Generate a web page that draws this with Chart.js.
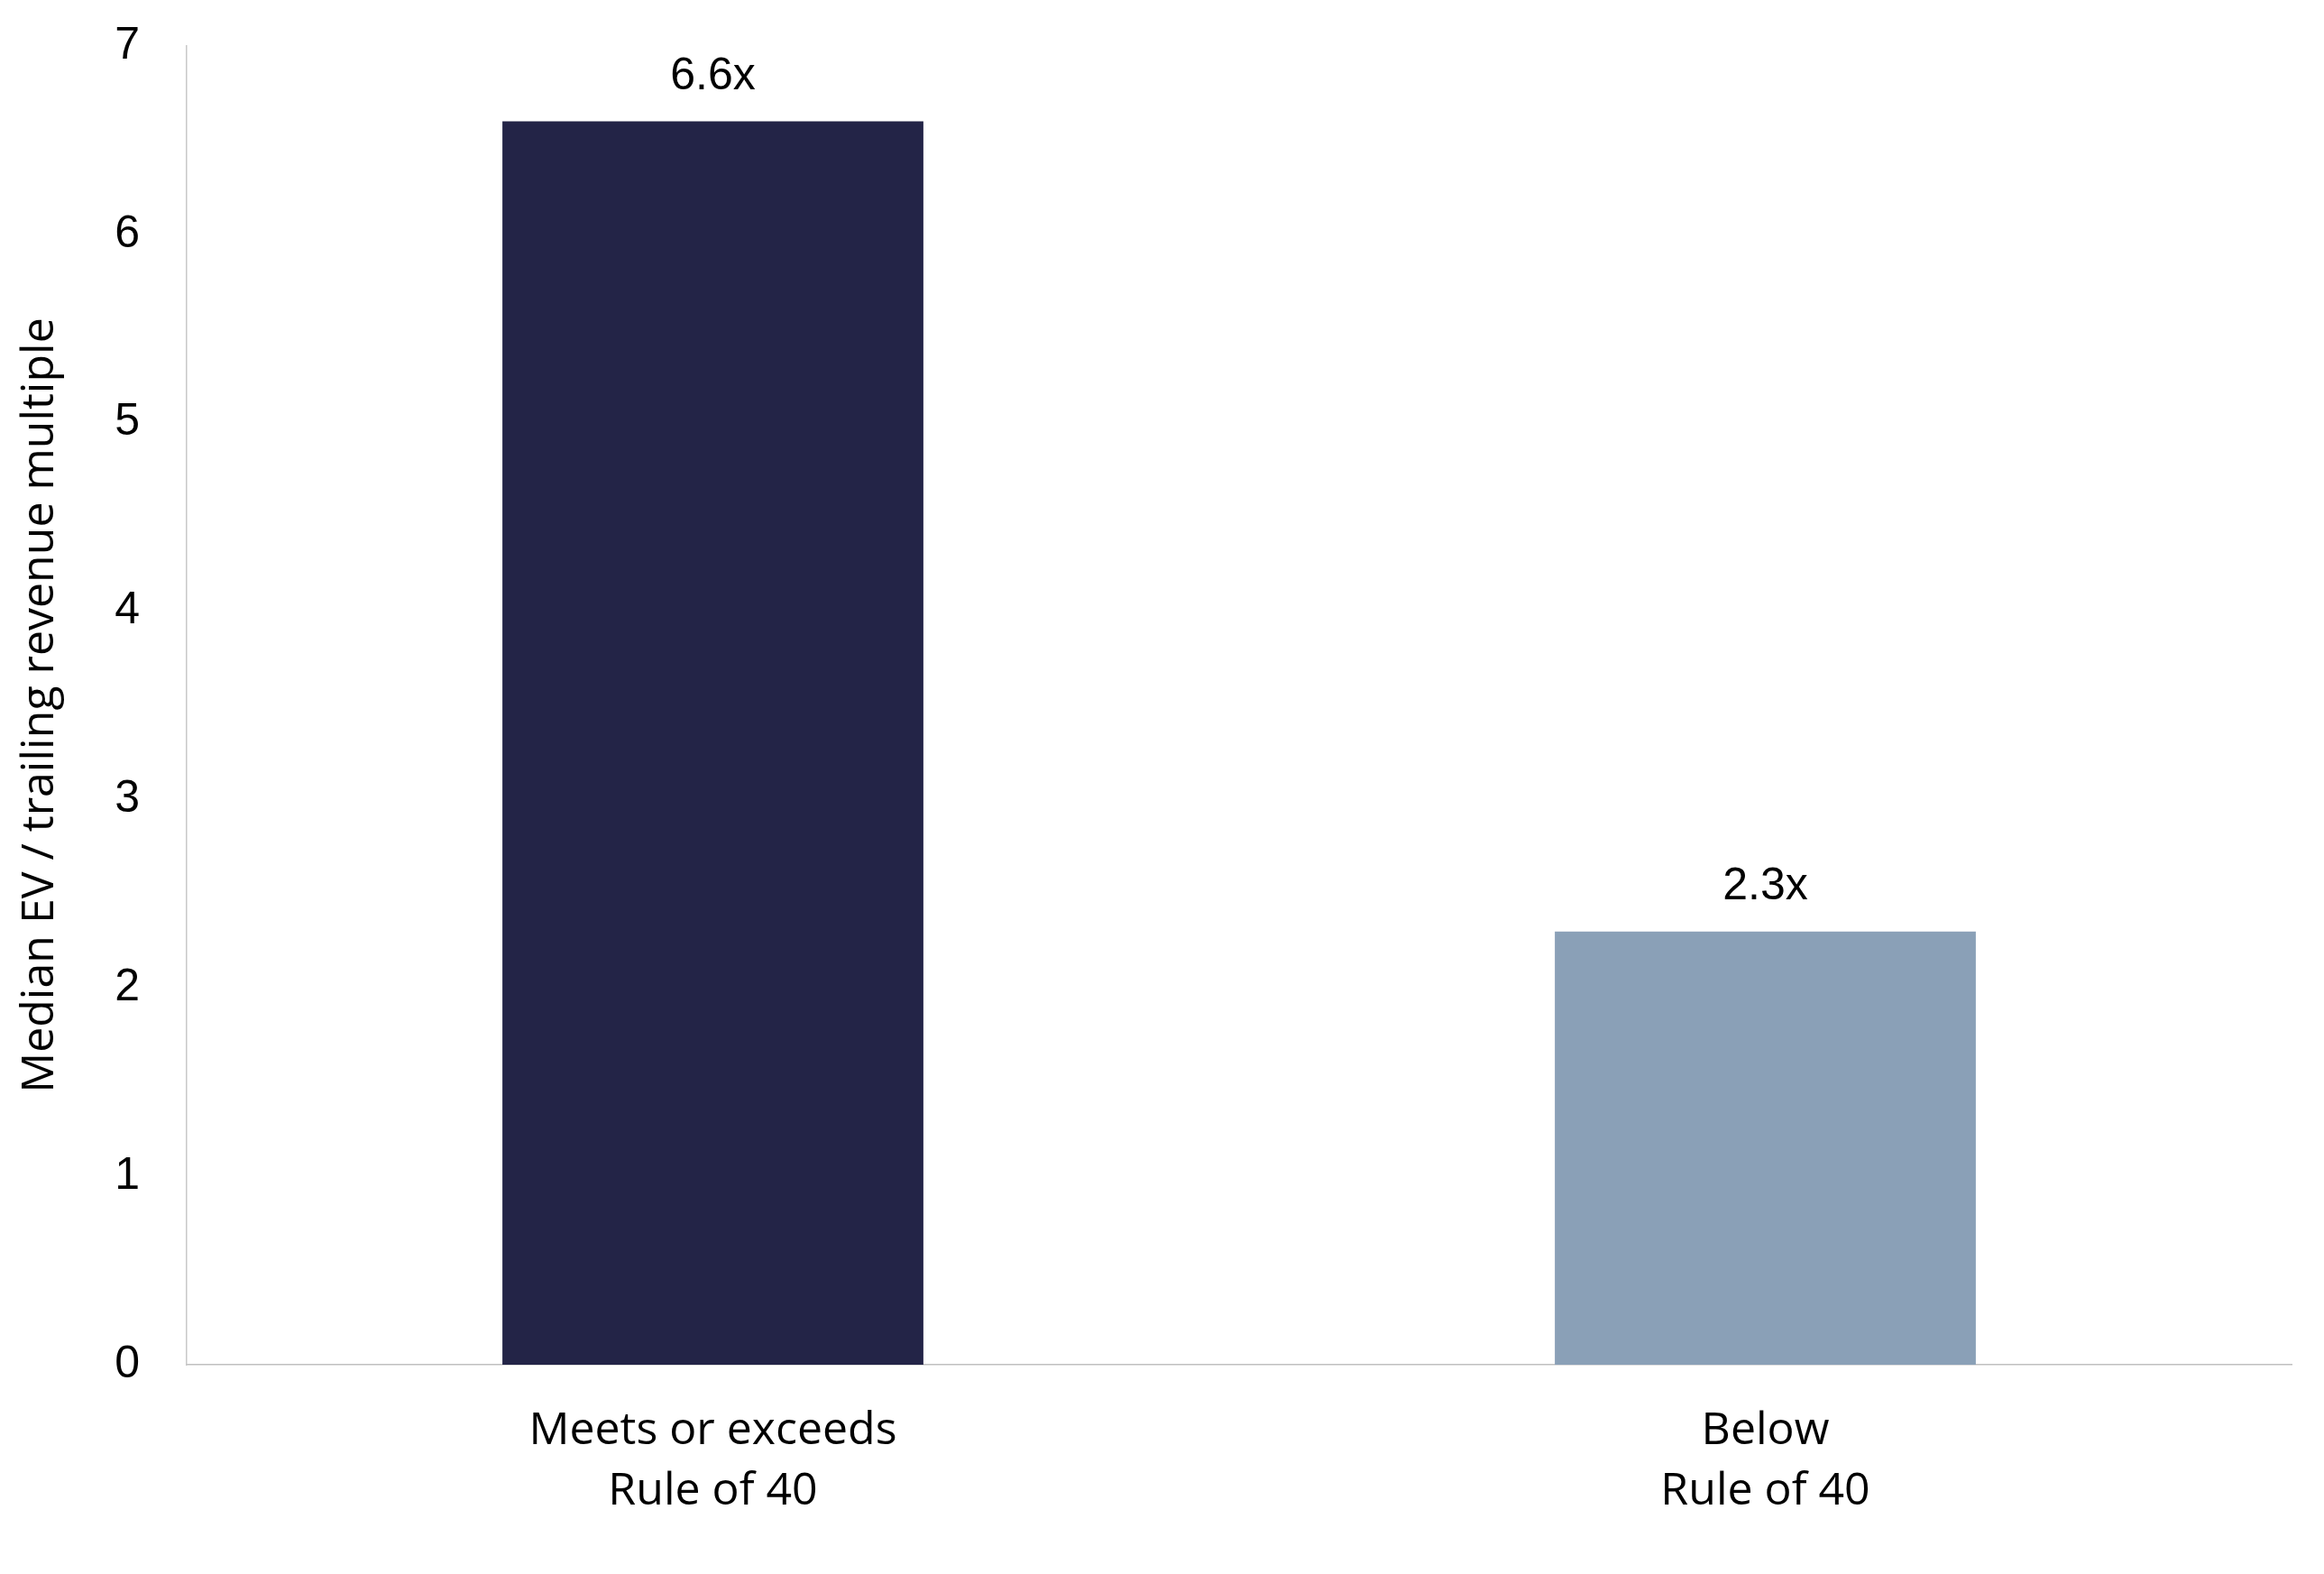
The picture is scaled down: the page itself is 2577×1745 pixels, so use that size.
<!DOCTYPE html>
<html>
<head>
<meta charset="utf-8">
<script src="https://cdn.jsdelivr.net/npm/chart.js@4.4.1/dist/chart.umd.min.js"></script>
<style>
  html, body { margin: 0; padding: 0; background: #fff; }
  canvas { display: block; }
</style>
</head>
<body>
<canvas id="chart" width="2577" height="1745"></canvas>
<script>
// chart data
const categories = [["Meets or exceeds", "Rule of 40"], ["Below", "Rule of 40"]];
const multiples = [6.6, 2.3];
const barColors = ["#232447", "#8AA0B7"];
const yTicks = [0, 1, 2, 3, 4, 5, 6, 7];

const NUM_FONT = "'Liberation Sans', Arial, sans-serif";
const TEXT_FONT = "'Open Sans', 'Liberation Sans', sans-serif";

// draws "6.6x" style labels above each bar
const valueLabels = {
  id: "valueLabels",
  afterDatasetsDraw(chart) {
    const ctx = chart.ctx;
    const meta = chart.getDatasetMeta(0);
    ctx.save();
    ctx.font = "50px " + NUM_FONT;
    ctx.fillStyle = "#000";
    ctx.textAlign = "center";
    ctx.textBaseline = "alphabetic";
    meta.data.forEach((bar, i) => {
      ctx.fillText(multiples[i].toFixed(1) + "x", bar.x, bar.y - 36);
    });
    ctx.restore();
  }
};

new Chart(document.getElementById("chart"), {
  type: "bar",
  data: {
    labels: categories,
    datasets: [{
      data: multiples,
      backgroundColor: barColors,
      borderWidth: 0,
      barPercentage: 0.8,
      categoryPercentage: 0.5
    }]
  },
  options: {
    responsive: false,
    animation: false,
    devicePixelRatio: 1,
    layout: { padding: { top: 51, right: 36, left: 0, bottom: 0 } },
    plugins: {
      legend: { display: false },
      tooltip: { enabled: false }
    },
    scales: {
      x: {
        grid: { display: false, drawTicks: false },
        border: { color: "#c0c0c0", width: 1.5 },
        ticks: {
          color: "#000",
          padding: 40,
          maxRotation: 0,
          font: { family: TEXT_FONT, size: 50, lineHeight: 1.34 }
        },
        afterFit(scale) { scale.height = 232; }
      },
      y: {
        min: 0,
        max: 7,
        afterBuildTicks(scale) { scale.ticks = yTicks.map(v => ({ value: v })); },
        grid: { display: false, drawTicks: true, tickLength: 52 },
        border: { color: "#c8c8c8", width: 1.5 },
        ticks: {
          color: "#000",
          padding: 0,
          font: { family: NUM_FONT, size: 50 }
        },
        title: {
          display: true,
          text: "Median EV / trailing revenue multiple",
          color: "#000",
          padding: { top: 15, bottom: 0 },
          font: { family: TEXT_FONT, size: 50, lineHeight: 1.2 }
        },
        afterFit(scale) { scale.width = 207; }
      }
    }
  },
  plugins: [valueLabels]
});
</script>
</body>
</html>
